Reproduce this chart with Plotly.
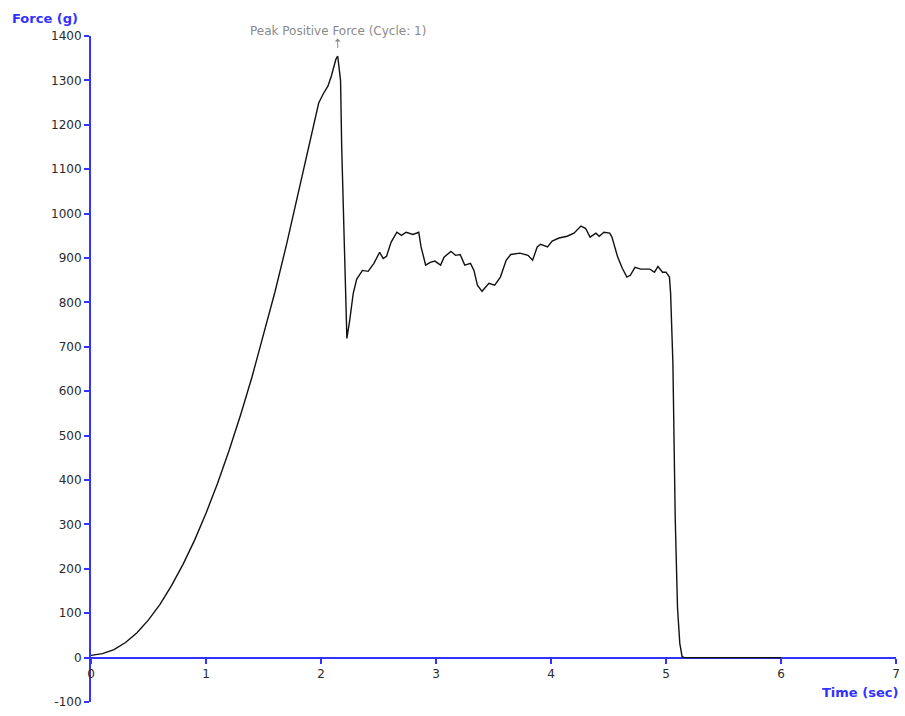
import plotly.graph_objects as go

time_sec = [0, 0.1, 0.2, 0.3, 0.4, 0.5, 0.6, 0.7, 0.8, 0.9, 1.0, 1.1, 1.2, 1.3, 1.4, 1.5,
            1.6, 1.7, 1.8, 1.9, 1.95, 1.98, 2.02, 2.06, 2.09, 2.11, 2.13, 2.145, 2.17,
            2.18, 2.20, 2.21, 2.225, 2.25, 2.28, 2.31, 2.36, 2.41, 2.46, 2.51, 2.54, 2.57,
            2.61, 2.66, 2.70, 2.74, 2.80, 2.85, 2.87, 2.91, 2.95, 2.99, 3.04, 3.07, 3.13,
            3.17, 3.21, 3.25, 3.30, 3.33, 3.36, 3.40, 3.46, 3.51, 3.56, 3.61, 3.65, 3.73,
            3.80, 3.84, 3.88, 3.91, 3.97, 4.01, 4.07, 4.14, 4.20, 4.26, 4.30, 4.34, 4.39,
            4.42, 4.46, 4.51, 4.53, 4.58, 4.62, 4.66, 4.69, 4.73, 4.78, 4.86, 4.90, 4.93,
            4.97, 5.00, 5.03, 5.04, 5.06, 5.08, 5.10, 5.12, 5.14, 5.16, 6.0]
force_g = [5, 9, 18, 34, 56, 85, 120, 162, 210, 264, 325, 392, 466, 546, 632, 725,
           824, 930, 1042, 1160, 1215, 1249, 1270, 1287, 1310, 1330, 1348, 1355, 1300,
           1150, 963, 820, 719, 760, 820, 852, 872, 870, 888, 913, 899, 904,
           936, 958, 951, 958, 953, 958, 925, 884, 890, 893, 884, 902, 915,
           906, 908, 884, 888, 872, 839, 825, 843, 839, 857, 895, 908, 911,
           906, 895, 925, 931, 925, 938, 945, 949, 956, 972, 967, 947, 956,
           949, 958, 956, 947, 902, 877, 857, 861, 879, 875, 875, 868, 881,
           868, 868, 857, 821, 663, 316, 113, 32, 2, 0, 0]

x_ticks = [0, 1, 2, 3, 4, 5, 6, 7]
y_ticks = [-100, 0, 100, 200, 300, 400, 500, 600, 700, 800, 900, 1000, 1100, 1200, 1300, 1400]
peak_label = "Peak Positive Force (Cycle: 1)"

AXIS_BLUE = "#3333ff"
TICK_TXT = "#2a2a2a"
FONT = "DejaVu Sans"

peak_i = max(range(len(force_g)), key=lambda i: force_g[i])

fig = go.Figure()
fig.add_trace(go.Scatter(x=time_sec, y=force_g, mode="lines",
                         line=dict(color="#111111", width=1.4), hoverinfo="skip"))

axis_common = dict(showgrid=False, zeroline=False, showline=True, linecolor=AXIS_BLUE,
                   linewidth=2, ticks="outside", ticklen=5, tickwidth=2,
                   tickcolor=AXIS_BLUE, layer="below traces",
                   tickfont=dict(family=FONT, size=12, color=TICK_TXT))

fig.update_layout(
    width=905, height=716,
    margin=dict(l=91, r=5, t=36, b=14),
    paper_bgcolor="white", plot_bgcolor="white",
    showlegend=False,
    font=dict(family=FONT, size=12, color=TICK_TXT),
    xaxis=dict(range=[0, 7], tickvals=x_ticks, ticktext=[str(v) for v in x_ticks],
               anchor="free", position=100 / 1500, **axis_common),
    yaxis=dict(range=[-100, 1400], tickvals=y_ticks, ticktext=[str(v) for v in y_ticks],
               **axis_common),
)

fig.add_annotation(x=time_sec[peak_i], y=force_g[peak_i], text=peak_label,
                   showarrow=True, ax=0, ay=-25, standoff=8, arrowside="start",
                   arrowhead=5, arrowsize=1, arrowwidth=1, arrowcolor="#8a8a8a",
                   borderpad=0,
                   font=dict(family=FONT, size=12, color="#8a8a8a"))

fig.add_annotation(xref="paper", yref="paper", x=-91 / 809, y=1, xanchor="left",
                   yanchor="bottom", yshift=8, text="<b>Force (g)</b>", showarrow=False,
                   xshift=10, font=dict(family=FONT, size=13, color=AXIS_BLUE))
fig.add_annotation(xref="paper", yref="paper", x=1, y=0, xanchor="right",
                   yanchor="middle", yshift=10, xshift=4, text="<b>Time (sec)</b>", showarrow=False,
                   font=dict(family=FONT, size=13, color=AXIS_BLUE))

fig.write_html("out.html")
